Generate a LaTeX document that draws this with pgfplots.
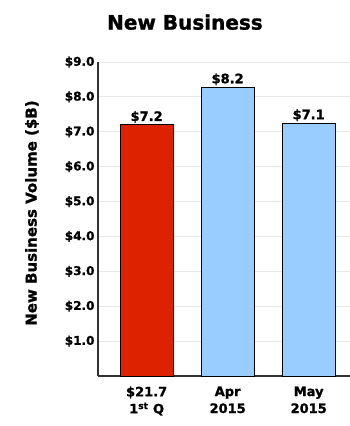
\documentclass[border=0pt]{standalone}
\usepackage{pgfplots}
\pgfplotsset{compat=1.18}
\usepackage{fontspec}
\setmainfont{DejaVu Sans}[BoldFeatures={FakeBold=1.3}]
\definecolor{barred}{HTML}{DD2200}
\definecolor{barblue}{HTML}{99CCFF}
\definecolor{axisgray}{HTML}{333333}
\begin{document}
\begin{tikzpicture}[x=1pt,y=1pt]
\useasboundingbox (0,0) rectangle (350,426);
\begin{axis}[
  at={(98pt,50pt)}, anchor=south west,
  scale only axis, width=252pt, height=314pt,
  xmin=-0.6, xmax=2.51, ymin=0, ymax=9,
  axis x line=bottom, axis y line=left,
  axis line style={axisgray, line width=1.2pt, -},
  ytick={1,2,3,4,5,6,7,8,9},
  yticklabel={\bfseries\fontsize{12}{14}\selectfont\$\pgfmathprintnumber[fixed,fixed zerofill,precision=1]{\tick}},
  /pgf/number format/assume math mode=true,
  xtick={0,1,2},
  xticklabels={{\$21.7\\1\textsuperscript{st} Q},{Apr\\2015},{May\\2015}},
  xticklabel style={align=center, font=\bfseries\fontsize{13}{17}\selectfont, yshift=-7pt},
  major tick length=0pt,
  ymajorgrids, grid style={gray!18, line width=0.8pt},
  ylabel={New Business Volume (\$B)},
  every axis y label/.style={at={(axis description cs:-0.262,0.519)}, rotate=90, anchor=center, font=\bfseries\fontsize{15}{18}\selectfont},
  title={New Business},
  every axis title/.style={at={(axis description cs:0.345,1.127)}, anchor=center, font=\bfseries\fontsize{20}{22}\selectfont},
  ybar, bar width=53pt, bar shift=0pt,
  nodes near coords,
  point meta=explicit symbolic,
  every node near coord/.append style={font=\bfseries\fontsize{13}{14}\selectfont, inner sep=1.5pt, anchor=south},
  clip=false,
]
\addplot[fill=barred, draw=black, line width=0.9pt] coordinates {(0,7.2) [\$7.2]};
\addplot[fill=barblue, draw=black, line width=0.9pt] coordinates {(1,8.28) [\$8.2] (2,7.25) [\$7.1]};
\end{axis}
\end{tikzpicture}
\end{document}
